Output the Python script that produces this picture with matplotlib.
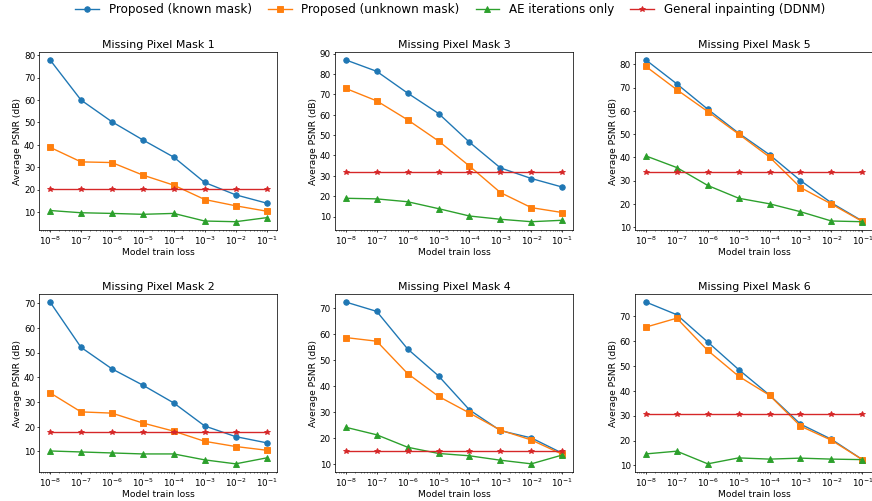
import matplotlib
matplotlib.use("Agg")
import matplotlib.pyplot as plt

DPI = 66

losses = [1e-8, 1e-7, 1e-6, 1e-5, 1e-4, 1e-3, 1e-2, 1e-1]
series_names = ["Proposed (known mask)", "Proposed (unknown mask)",
                "AE iterations only", "General inpainting (DDNM)"]

# PSNR (dB) per mask: known, unknown, AE only, DDNM
mask1_known = [77.9, 60.0, 50.3, 42.2, 34.5, 23.2, 17.7, 14.0]
mask1_unknown = [38.9, 32.4, 32.1, 26.5, 22.0, 15.6, 12.8, 10.4]
mask1_ae = [10.7, 9.7, 9.4, 9.0, 9.4, 6.0, 5.7, 7.5]
mask1_ddnm = [20.2] * 8

mask2_known = [70.4, 52.1, 43.4, 36.8, 29.6, 20.3, 16.0, 13.5]
mask2_unknown = [33.7, 26.0, 25.5, 21.5, 18.2, 14.1, 12.0, 10.5]
mask2_ae = [10.2, 9.8, 9.4, 9.0, 9.0, 6.6, 5.0, 7.4]
mask2_ddnm = [17.8] * 8

mask3_known = [86.9, 81.3, 70.6, 60.6, 46.5, 33.9, 28.7, 24.5]
mask3_unknown = [72.9, 66.8, 57.5, 47.1, 34.8, 21.8, 14.4, 12.0]
mask3_ae = [19.0, 18.7, 17.3, 13.9, 10.3, 8.7, 7.5, 8.2]
mask3_ddnm = [31.9] * 8

mask4_known = [72.4, 68.8, 54.3, 43.9, 30.8, 22.8, 20.0, 14.1]
mask4_unknown = [58.7, 57.3, 44.8, 36.0, 29.6, 23.0, 19.2, 13.7]
mask4_ae = [24.1, 21.2, 16.4, 14.0, 13.1, 11.4, 10.0, 13.4]
mask4_ddnm = [15.1] * 8

mask5_known = [81.9, 71.6, 60.7, 50.4, 41.1, 30.0, 20.4, 12.6]
mask5_unknown = [79.1, 69.1, 59.7, 50.0, 40.1, 27.0, 19.9, 12.4]
mask5_ae = [40.6, 35.6, 27.9, 22.4, 20.0, 16.6, 12.6, 12.3]
mask5_ddnm = [33.7] * 8

mask6_known = [75.8, 70.7, 59.7, 48.6, 38.3, 26.6, 20.5, 12.3]
mask6_unknown = [65.7, 69.3, 56.3, 45.9, 38.2, 25.8, 20.1, 12.3]
mask6_ae = [14.6, 15.7, 10.6, 13.0, 12.5, 12.9, 12.5, 12.3]
mask6_ddnm = [30.8] * 8

masks = {
    1: [mask1_known, mask1_unknown, mask1_ae, mask1_ddnm],
    2: [mask2_known, mask2_unknown, mask2_ae, mask2_ddnm],
    3: [mask3_known, mask3_unknown, mask3_ae, mask3_ddnm],
    4: [mask4_known, mask4_unknown, mask4_ae, mask4_ddnm],
    5: [mask5_known, mask5_unknown, mask5_ae, mask5_ddnm],
    6: [mask6_known, mask6_unknown, mask6_ae, mask6_ddnm],
}

markers = ["o", "s", "^", "*"]
colors = ["tab:blue", "tab:orange", "tab:green", "tab:red"]

fig = plt.figure(figsize=(872.3 / DPI, 501.3 / DPI), dpi=DPI)

# column lefts / row bottoms in figure fraction
col_left = [0.045, 0.384, 0.728]
row_bottom = [0.541, 0.058]
w, h = 0.273, 0.355

# top row: masks 1,3,5 ; bottom row: masks 2,4,6
layout = [[1, 3, 5], [2, 4, 6]]

for r, row in enumerate(layout):
    for c, m in enumerate(row):
        ax = fig.add_axes([col_left[c], row_bottom[r], w, h])
        for vals, mk, col, name in zip(masks[m], markers, colors, series_names):
            ax.plot(losses, vals, marker=mk, color=col, label=name)
        ax.set_xscale("log")
        ax.set_xticks(losses)
        ax.tick_params(which="major", length=2.5, pad=2, labelsize=9.5)
        ax.tick_params(which="minor", length=1.5)
        ax.set_title(f"Missing Pixel Mask {m}", pad=5)
        ax.set_xlabel("Model train loss", labelpad=1)
        ax.set_ylabel("Average PSNR (dB)", labelpad=2)

handles, labels = ax.get_legend_handles_labels()
fig.legend(handles, labels, loc="upper center", bbox_to_anchor=(0.516, 1.015),
           ncol=4, frameon=False, fontsize=13, columnspacing=1.35)

fig.savefig("out.png", dpi=DPI)
